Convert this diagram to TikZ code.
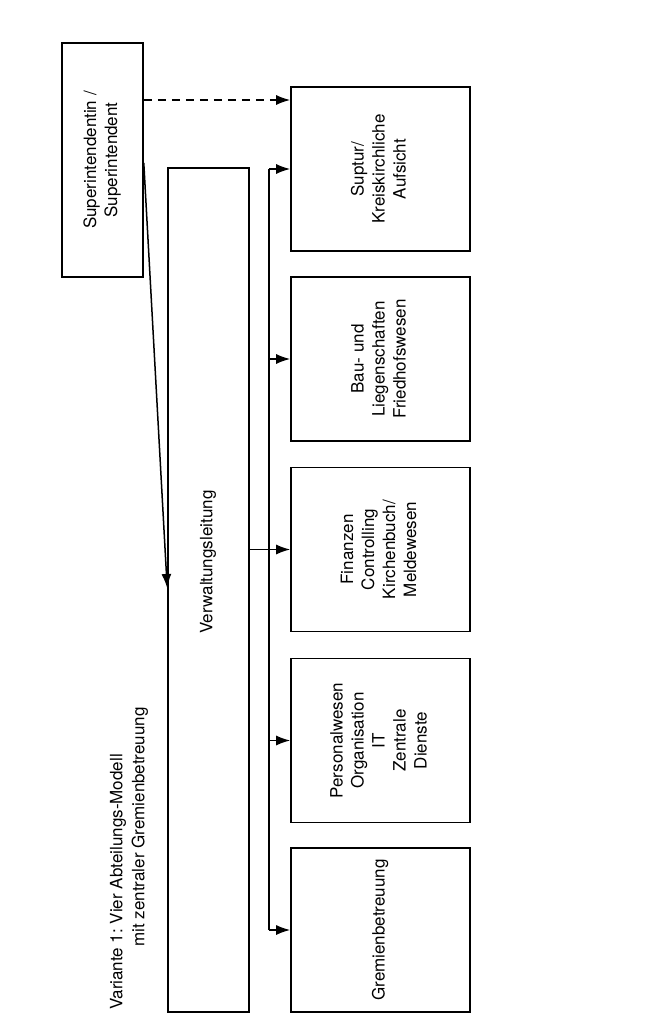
\documentclass[tikz,border=0pt]{standalone}
\usepackage{fontspec}
\setmainfont{TeX Gyre Heros}
\usepackage{tikz}
\usetikzlibrary{arrows.meta,calc}

\newcommand{\vtext}[1]{\rotatebox{90}{\begin{tabular}{@{}c@{}}#1\end{tabular}}}

\begin{document}
\begin{tikzpicture}[
      x=1pt, y=-1pt,
      font=\fontsize{17}{21}\selectfont,
      box/.style={draw, line width=1.6pt, inner sep=0pt},
      dept/.style={box, minimum width=179pt, minimum height=164pt},
      con/.style={line width=1.5pt},
      >={Latex[length=14pt,width=10pt]}
    ]
      \useasboundingbox (0,0) rectangle (667,1027);

      % Title
      \node[rotate=90] (title1) at (118,882) {Variante 1:\ Vier Abteilungs-Modell};
      \node[rotate=90] (title2) at (140,827) {mit zentraler Gremienbetreuung};

      % Superintendent and administration
      \node[box, minimum width=81pt, minimum height=234pt] (sup) at (102.5,160)
        {\vtext{Superintendentin /\\Superintendent}};
      \node[box, minimum width=81pt, minimum height=844pt] (vw) at (208.5,590) {};
      \node[rotate=90] (vwlabel) at (208,562) {Verwaltungsleitung};

      % Departments, top to bottom
      \node[dept] (suptur) at (380.5,169)
        {\vtext{Suptur/\\Kreiskirchliche\\Aufsicht}};
      \node[dept] (bau) at (380.5,359)
        {\vtext{Bau- und\\Liegenschaften\\Friedhofswesen}};
      \node[dept] (fin) at (380.5,549.5)
        {\vtext{Finanzen\\Controlling\\Kirchenbuch/\\Meldewesen}};
      \node[dept] (pers) at (380.5,740.5)
        {\vtext{Personalwesen\\Organisation\\IT\\Zentrale\\Dienste}};
      \node[dept] (grem) at (380.5,930)
        {\vtext{Gremienbetreuung}};

      % Bus line
      \coordinate (bus) at (269,0);
      \draw[con] (bus |- grem.west) -- (bus |- suptur.west);
      \draw[con,->] (bus |- suptur.west) -- (suptur.west);
      \draw[con,->] (bus |- bau.west) -- (bau.west);
      \draw[con,->] (vw.east |- fin.west) -- (fin.west);
      \draw[con,->] (bus |- pers.west) -- (pers.west);
      \draw[con,->] (bus |- grem.west) -- (grem.west);

      % Superintendent links
      \draw[con,->,dash pattern=on 8pt off 6pt]
        ([yshift=60pt]sup.east) -- ([yshift=60pt]sup.east -| suptur.west);
      \draw[con,->] ([yshift=-3pt]sup.east) -- ([yshift=2pt]vw.west);
    \end{tikzpicture}
\end{document}
